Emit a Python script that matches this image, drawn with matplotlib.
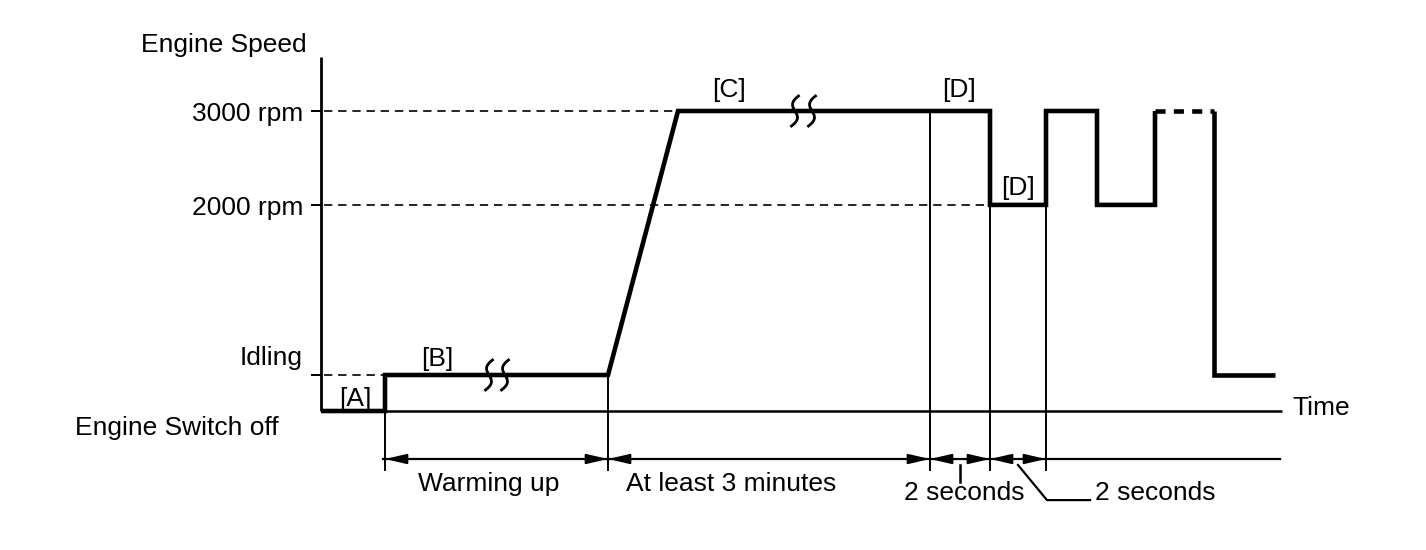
import matplotlib.pyplot as plt
import numpy as np

plt.rcParams['font.family'] = ['Liberation Sans', 'DejaVu Sans']

# Speed levels on the schematic axis (3000 rpm drawn at height 1)
speed_labels = ["3000 rpm", "2000 rpm", "Idling"]
speed_levels = [1.0, 0.687, 0.12]

# Engine speed trace (time in arbitrary units, level on schematic axis)
trace_t = [0, 6.4, 6.4, 28.7, 35.7, 66.9, 66.9, 72.5, 72.5, 77.6, 77.6, 83.4, 83.4]
trace_y = [0, 0, 0.12, 0.12, 1.0, 1.0, 0.687, 0.687, 1.0, 1.0, 0.687, 0.687, 1.0]
# repeated cycles continue (dashed), then back to idling
tail_dash_t = [83.4, 89.3]
tail_dash_y = [1.0, 1.0]
tail_t = [89.3, 89.3, 95.4]
tail_y = [1.0, 0.12, 0.12]

# Phase boundaries and their labels
phase_edges = [6.4, 28.7, 60.9, 66.9, 72.5]
phase_labels = ["Warming up", "At least 3 minutes", "2 seconds", "2 seconds"]

# Step markers
step_labels = ["[A]", "[B]", "[C]", "[D]", "[D]"]

FS = 19
lw_thick = 3.3
lw_thin = 1.4

fig = plt.figure(figsize=(14.26, 5.5), dpi=100)
ax = fig.add_axes([0, 0, 1, 1])
ax.set_xlim(-32.1, 110.5)
ax.set_ylim(-0.4633, 1.37)
ax.axis('off')

# axes of the diagram
ax.plot([0, 0], [0, 1.18], color='black', lw=2.0, solid_capstyle='butt')
ax.plot([0, 96.1], [0, 0], color='black', lw=1.8, solid_capstyle='butt')

# reference levels: ticks, labels and dashed guides
guide_ends = [35.7, 66.9, 6.4]
for lab, lev, end in zip(speed_labels, speed_levels, guide_ends):
    ax.plot([-0.9, 0], [lev, lev], color='black', lw=lw_thin)
    ax.plot([0.3, end], [lev, lev], color='black', lw=1.2, dashes=(5, 3.5))
    off = 0.033 if lab == "Idling" else -0.033
    ax.text(-1.8, lev + off, lab, ha='right', va='baseline', fontsize=FS)

ax.text(-1.4, 1.197, "Engine Speed", ha='right', va='baseline', fontsize=FS)
ax.text(-24.6, -0.08, "Engine Switch off", ha='left', va='baseline', fontsize=FS)
ax.text(97.1, -0.013, "Time", ha='left', va='baseline', fontsize=FS)

# phase boundary lines
bound_tops = [0.12, 0.12, 1.0, 0.687, 0.687]
for t, top in zip(phase_edges, bound_tops):
    ax.plot([t, t], [top, -0.197], color='black', lw=lw_thin)

# dimension line with arrows
ax.plot([6.2, 95.9], [-0.16, -0.16], color='black', lw=1.6)
for a, b in zip(phase_edges[:-1], phase_edges[1:]):
    ax.annotate('', xy=(b, -0.16), xytext=(a, -0.16),
                arrowprops=dict(arrowstyle='<|-|>,head_length=0.65,head_width=0.15',
                                color='black', lw=1.4, shrinkA=0, shrinkB=0,
                                mutation_scale=20))

phase_text_x = [16.8, 41.0, 64.3]
for x, lab in zip(phase_text_x, phase_labels[:3]):
    y = -0.267 if lab != "2 seconds" else -0.297
    ax.text(x, y, lab, ha='center', va='baseline', fontsize=FS)

# small pointer under the first 2 second interval
ax.plot([63.9, 63.9], [-0.18, -0.237], color='black', lw=1.8)
# leader to the second 2 second interval
ax.plot([69.7, 72.6, 76.9], [-0.18, -0.297, -0.297], color='black', lw=1.6)
ax.text(77.4, -0.297, phase_labels[3], ha='left', va='baseline', fontsize=FS)

# engine speed trace
ax.plot(trace_t, trace_y, color='black', lw=lw_thick,
        solid_joinstyle='miter', solid_capstyle='butt')
ax.plot(tail_dash_t, tail_dash_y, color='black', lw=lw_thick, dashes=(2.2, 1.8))
ax.plot(tail_t, tail_y, color='black', lw=lw_thick,
        solid_joinstyle='miter', solid_capstyle='butt')

# S-shaped break marks on the long plateaus
s = np.linspace(-1, 1, 60)
bend = -0.8 * np.sin(np.pi * s) + s ** 3
for c, lev in [(16.8, 0.12), (18.4, 0.12), (47.4, 1.0), (49.1, 1.0)]:
    ax.plot(c + 0.35 * bend, lev + 0.05 * s, color='black', lw=2.0)

# step markers
step_pos = [(3.4, 0.017), (11.6, 0.15), (40.8, 1.047), (63.8, 1.047), (69.7, 0.72)]
for lab, (x, y) in zip(step_labels, step_pos):
    ax.text(x, y, lab, ha='center', va='baseline', fontsize=FS)

fig.savefig('out.png', dpi=100, facecolor='white')
